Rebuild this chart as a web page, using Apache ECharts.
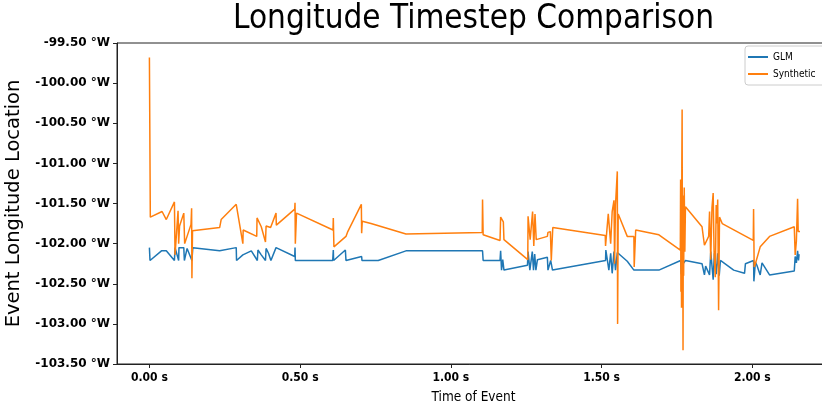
<!DOCTYPE html>
<html>
<head>
<meta charset="utf-8">
<script src="https://cdn.jsdelivr.net/npm/echarts@6/dist/echarts.min.js"></script>
<style>html,body{margin:0;padding:0;background:#fff}#c{width:822px;height:410px}</style>
</head>
<body>
<div id="c"></div>
<script>
const titleText = 'Longitude Timestep Comparison';
const xName = 'Time of Event';
const yName = 'Event Longitude Location';
const seriesNames = ['GLM', 'Synthetic'];
const xTicks = [0, 0.5, 1.0, 1.5, 2.0];
const yTicks = [-103.5, -103, -102.5, -102, -101.5, -101, -100.5, -100, -99.5];

const glmTime = [0.000,0.002,0.040,0.056,0.083,0.085,0.097,0.098,0.114,0.116,0.125,0.141,0.144,0.233,0.288,0.289,0.310,0.338,0.358,0.360,0.371,0.385,0.387,0.395,0.403,0.420,0.482,0.483,0.484,0.608,0.610,0.611,0.650,0.652,0.704,0.705,0.759,0.851,1.105,1.107,1.163,1.165,1.168,1.172,1.176,1.254,1.256,1.262,1.270,1.274,1.278,1.282,1.287,1.320,1.322,1.331,1.337,1.513,1.514,1.524,1.530,1.535,1.541,1.546,1.552,1.585,1.607,1.690,1.762,1.764,1.766,1.770,1.778,1.833,1.841,1.845,1.858,1.862,1.870,1.874,1.880,1.885,1.890,1.894,1.938,1.974,1.977,2.004,2.005,2.010,2.015,2.026,2.032,2.057,2.139,2.142,2.146,2.150,2.153,2.155];
const glmLon = [-102.05,-102.21,-102.09,-102.09,-102.21,-102.05,-102.21,-102.05,-102.05,-102.21,-102.06,-102.21,-102.05,-102.09,-102.05,-102.21,-102.14,-102.09,-102.21,-102.08,-102.14,-102.21,-102.06,-102.12,-102.21,-102.05,-102.16,-102.05,-102.21,-102.21,-102.08,-102.21,-102.08,-102.21,-102.16,-102.21,-102.21,-102.09,-102.09,-102.21,-102.21,-102.09,-102.33,-102.20,-102.33,-102.27,-102.10,-102.33,-102.10,-102.33,-102.13,-102.33,-102.20,-102.17,-102.33,-102.21,-102.33,-102.21,-102.08,-102.33,-102.12,-102.37,-102.10,-102.33,-102.11,-102.22,-102.33,-102.33,-102.21,-102.38,-102.10,-102.25,-102.21,-102.25,-102.39,-102.28,-102.39,-102.10,-102.45,-102.12,-102.38,-102.12,-102.40,-102.21,-102.33,-102.37,-102.25,-102.21,-102.47,-102.23,-102.27,-102.39,-102.24,-102.39,-102.34,-102.16,-102.24,-102.09,-102.21,-102.13];

const synTime = [0.000,0.003,0.042,0.056,0.083,0.085,0.095,0.097,0.100,0.114,0.117,0.138,0.140,0.141,0.143,0.233,0.238,0.288,0.310,0.311,0.356,0.357,0.371,0.385,0.387,0.402,0.420,0.421,0.482,0.483,0.484,0.488,0.609,0.610,0.612,0.652,0.658,0.703,0.704,0.706,0.735,0.851,1.104,1.105,1.107,1.163,1.165,1.174,1.176,1.255,1.256,1.263,1.271,1.275,1.279,1.283,1.287,1.320,1.322,1.330,1.333,1.338,1.512,1.513,1.522,1.530,1.535,1.541,1.543,1.546,1.552,1.553,1.555,1.585,1.607,1.608,1.613,1.690,1.761,1.762,1.763,1.764,1.765,1.766,1.767,1.768,1.769,1.770,1.771,1.772,1.774,1.776,1.778,1.833,1.841,1.855,1.858,1.862,1.866,1.870,1.873,1.877,1.880,1.883,1.885,1.888,1.891,1.900,2.003,2.004,2.006,2.010,2.026,2.057,2.139,2.142,2.146,2.150,2.152,2.158];
const synLon = [-99.68,-101.67,-101.60,-101.70,-101.48,-102.14,-101.59,-102.00,-101.78,-101.62,-102.00,-101.76,-101.56,-102.43,-101.84,-101.80,-101.70,-101.51,-102.00,-101.83,-101.91,-101.68,-101.79,-101.98,-101.78,-101.80,-101.62,-101.77,-101.57,-101.49,-102.00,-101.62,-101.83,-101.68,-102.04,-101.91,-101.85,-101.51,-101.87,-101.72,-101.75,-101.88,-101.86,-101.45,-101.89,-101.96,-101.67,-101.73,-101.95,-102.20,-101.66,-101.95,-101.60,-102.03,-101.63,-101.95,-101.97,-101.91,-101.86,-101.85,-102.21,-101.80,-101.90,-102.03,-101.63,-102.00,-101.60,-101.46,-102.25,-101.52,-101.10,-103.00,-101.63,-101.91,-101.91,-102.29,-101.83,-101.89,-102.08,-101.20,-102.60,-101.30,-102.80,-101.05,-100.33,-102.50,-101.40,-103.33,-101.60,-102.40,-101.30,-102.10,-101.54,-101.79,-102.02,-101.91,-101.60,-102.20,-101.55,-101.37,-102.10,-102.42,-101.52,-101.75,-101.45,-102.83,-101.67,-101.75,-101.96,-101.57,-102.29,-102.25,-102.04,-101.91,-101.79,-102.14,-101.97,-101.44,-101.85,-101.85];

const zip = (a, b) => a.map((v, i) => [v, b[i]]);
const chart = echarts.init(document.getElementById('c'), null, {renderer: 'canvas'});
const axisCol = '#222';
chart.setOption({
  animation: false,
  backgroundColor: '#fff',
  color: ['#1f77b4', '#ff7f0e'],
  graphic: [{
    type: 'text', left: 233, top: 3,
    style: {text: titleText, fontFamily: 'DejaVu Sans Condensed, DejaVu Sans', fontSize: 33, fill: '#000'}
  }],
  legend: {
    data: seriesNames, orient: 'vertical', left: 745, top: 46,
    icon: 'rect', itemWidth: 20, itemHeight: 2, itemGap: 7,
    padding: [6, 20, 6, 3],
    borderColor: '#ccc', borderWidth: 1, borderRadius: 3,
    textStyle: {fontFamily: 'DejaVu Sans Condensed, DejaVu Sans', fontSize: 10, color: '#000'}
  },
  grid: {left: 117, right: -8, top: 43, bottom: 46, containLabel: false, outerBoundsMode: 'none', show: true, borderColor: axisCol, borderWidth: 1},
  xAxis: {
    type: 'value', min: -0.1075, max: 2.2575,
    name: xName, nameLocation: 'middle', nameGap: 26,
    nameTextStyle: {fontFamily: 'DejaVu Sans Condensed, DejaVu Sans', fontSize: 13.5, color: '#000'},
    axisLine: {show: true, onZero: false, lineStyle: {color: axisCol, width: 1}},
    axisTick: {show: true, length: 4, customValues: xTicks, lineStyle: {color: axisCol}},
    axisLabel: {customValues: xTicks, margin: 8, fontFamily: 'DejaVu Sans Condensed, DejaVu Sans', fontWeight: 'bold', fontSize: 12, color: '#000',
      formatter: v => v.toFixed(2) + ' s'},
    splitLine: {show: false}
  },
  yAxis: {
    type: 'value', min: -103.5, max: -99.5, interval: 0.5,
    name: yName, nameLocation: 'middle', nameGap: 86, nameRotate: 90,
    nameTextStyle: {fontFamily: 'DejaVu Sans', fontSize: 19.5, color: '#000'},
    axisLine: {show: true, onZero: false, lineStyle: {color: axisCol, width: 1}},
    axisTick: {show: true, length: 4, lineStyle: {color: axisCol}},
    axisLabel: {margin: 7, fontFamily: 'DejaVu Sans', fontWeight: 'bold', fontSize: 12, color: '#000',
      formatter: v => v.toFixed(2) + ' °W'},
    splitLine: {show: false}
  },
  series: [
    {name: seriesNames[0], type: 'line', data: zip(glmTime, glmLon), showSymbol: false, symbol: 'none', lineStyle: {width: 1.5}, clip: true},
    {name: seriesNames[1], type: 'line', data: zip(synTime, synLon), showSymbol: false, symbol: 'none', lineStyle: {width: 1.5}, clip: true}
  ]
});
</script>
</body>
</html>
